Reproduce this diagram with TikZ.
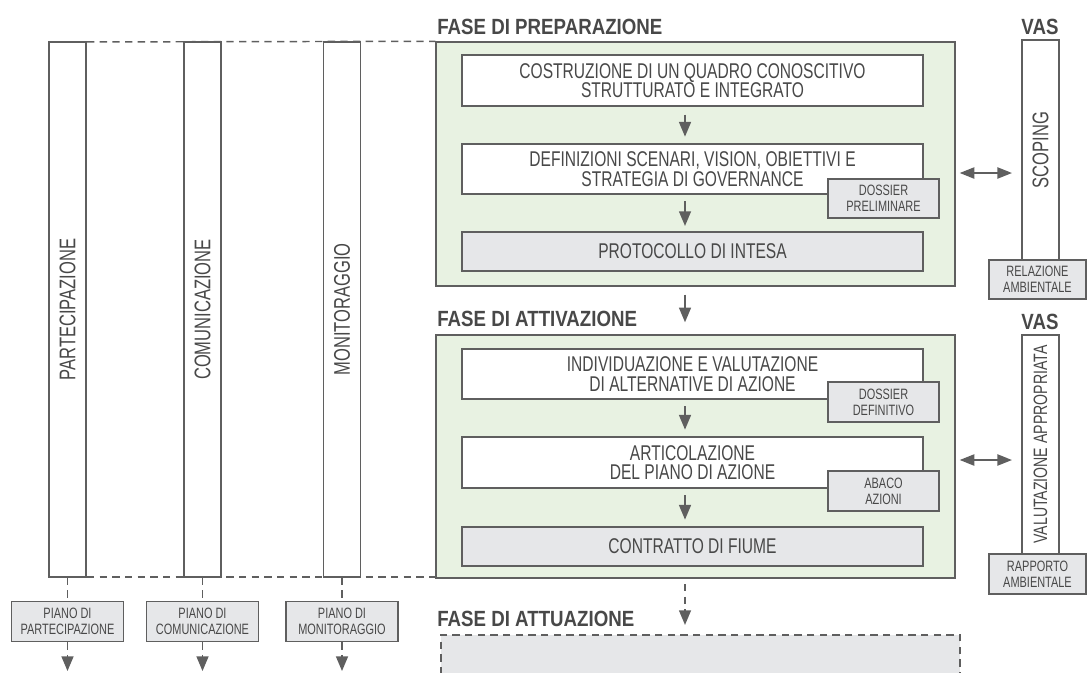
\documentclass[tikz,border=0pt]{standalone}
\usepackage{fontspec}
\setmainfont{Liberation Sans}[FakeStretch=0.73]
\newfontfamily\titlefont{Liberation Sans}[FakeStretch=0.85]
\usepackage{graphicx}
\usepackage{xcolor}
\usetikzlibrary{arrows.meta, positioning, calc}
\newlength{\Unit}
\setlength\Unit{0.75pt}
\definecolor{linegray}{RGB}{95,95,95}
\definecolor{textgray}{RGB}{72,72,72}
\definecolor{phasegreen}{RGB}{232,242,226}
\definecolor{boxgray}{RGB}{230,231,233}
\newcommand{\stepfont}{\fontsize{16}{14.5}\selectfont}
\newcommand{\docfont}{\fontsize{11.25}{12}\selectfont}
\newcommand{\colfont}{\fontsize{17}{17}\selectfont}
\newcommand{\phasefont}{\titlefont\bfseries\fontsize{16.5}{16.5}\selectfont}

\begin{document}
\begin{tikzpicture}[
    x = 0.75pt, y = -0.75pt,
    phase/.style = {
      rectangle, draw = linegray, fill = phasegreen, line width = 1.1pt,
      inner sep = 0pt, minimum width = 519*\Unit
    },
    stepbox/.style = {
      rectangle, draw = linegray, fill = white, line width = 1.1pt,
      inner sep = 0pt, align = center, text = textgray, font = \stepfont,
      minimum width = 461*\Unit
    },
    outcome/.style = {
      stepbox, fill = boxgray, minimum height = 39*\Unit
    },
    doc/.style = {
      rectangle, draw = linegray, fill = boxgray, line width = 1.1pt,
      inner sep = 0pt, align = center, text = textgray, font = \docfont,
      minimum width = 111*\Unit, minimum height = 40*\Unit
    },
    column/.style = {
      rectangle, draw = linegray, fill = white, line width = 1.1pt,
      inner sep = 0pt, text = textgray, font = \colfont,
      minimum width = 37*\Unit
    },
    phasetitle/.style = {
      inner sep = 0pt, text = textgray, font = \phasefont
    },
    flow/.style = {
      draw = linegray, line width = 1.1pt,
      arrows = -{Triangle[length = 11pt, width = 9pt]}
    },
    link/.style = {
      draw = linegray, line width = 1.1pt,
      arrows = {Triangle[length = 11pt, width = 8.5pt]}-{Triangle[length = 11pt, width = 8.5pt]}
    },
    dashedline/.style = {
      draw = linegray, line width = 1.1pt, dash pattern = on 5.5pt off 4pt
    },
    ]

    \clip (0,0) rectangle (1087,672);

    % phase frames
    \node  [phase, minimum height = 244*\Unit]  (prep)  at (695.5,164)  {};
    \node  [phase, minimum height = 243*\Unit]  (act)  at (695.5,456.5)  {};
    \node  [phase, fill = boxgray, dashedline, minimum height = 70*\Unit]  (att)  at (700.5,670)  {};

    % phase titles
    \node  [phasetitle, anchor = west]  (prepT)  at (437,27)  {FASE DI PREPARAZIONE};
    \node  [phasetitle, anchor = west]  (actT)  at (437,319)  {FASE DI ATTIVAZIONE};
    \node  [phasetitle, anchor = west]  (attT)  at (437,619)  {FASE DI ATTUAZIONE};

    % steps of the preparation
    \node  [stepbox, minimum height = 51*\Unit]  (cost)  at (692.5,80.5)
      {COSTRUZIONE DI UN QUADRO CONOSCITIVO\\STRUTTURATO E INTEGRATO};
    \node  [stepbox, minimum height = 50*\Unit]  (defi)  at (692.5,169)
      {DEFINIZIONI SCENARI, VISION, OBIETTIVI E\\STRATEGIA DI GOVERNANCE};
    \node  [outcome]  (prot)  at (692.5,251.5)  {PROTOCOLLO DI INTESA};
    \node  [doc, minimum height = 39*\Unit]  (dosPre)  at (883.5,198.5)  {DOSSIER\\PRELIMINARE};

    % steps of the activation
    \node  [stepbox, minimum height = 50*\Unit]  (indi)  at (692.5,374)
      {INDIVIDUAZIONE E VALUTAZIONE\\DI ALTERNATIVE DI AZIONE};
    \node  [stepbox, minimum height = 51*\Unit]  (arti)  at (692.5,462.5)
      {ARTICOLAZIONE\\DEL PIANO DI AZIONE};
    \node  [outcome]  (contr)  at (692.5,546.5)  {CONTRATTO DI FIUME};
    \node  [doc]  (dosDef)  at (883.5,402)  {DOSSIER\\DEFINITIVO};
    \node  [doc]  (abaco)  at (883.5,491)  {ABACO\\AZIONI};

    % VAS
    \node  [phasetitle]  (vasA)  at (1040,27)  {VAS};
    \node  [column, minimum height = 220*\Unit]  (scop)  at (1040.5,150)  {\rotatebox{90}{SCOPING}};
    \node  [doc, minimum width = 97*\Unit, minimum height = 39*\Unit]  (rel)  at (1037.5,279.5)  {RELAZIONE\\AMBIENTALE};
    \node  [phasetitle]  (vasB)  at (1040,322)  {VAS};
    \node  [column, minimum height = 219*\Unit, font = \fontsize{14.5}{14.5}\selectfont]  (valu)  at (1040.5,444.5)
      {\rotatebox{90}{VALUTAZIONE APPROPRIATA}};
    \node  [doc, minimum width = 97*\Unit]  (rapp)  at (1037.5,574)  {RAPPORTO\\AMBIENTALE};

    % dashed frame lines
    \coordinate  (topL)  at (49,42);
    \coordinate  (botL)  at (49,577);
    \draw  [dashedline]  (topL)  --  (prep.north west);
    \draw  [dashedline]  (botL)  --  (botL -| act.west);

    % left columns and plans
    \foreach \n/\x/\lab in {part/67.5/PARTECIPAZIONE, com/202.5/COMUNICAZIONE, mon/342/MONITORAGGIO}
    {
      \node  [column, minimum height = 535*\Unit]  (col\n)  at (\x,309.5)  {\rotatebox{90}{\lab}};
      \node  [doc, minimum width = 112*\Unit]  (piano\n)  at (\x,621.5)  {PIANO DI\\\lab};
      \coordinate  (end\n)  at (\x,671);
      \draw  [dashedline]  (col\n.south)  --  (piano\n.north);
      \draw  [dashedline, flow]  (piano\n.south)  --  (end\n);
    }

    % draw paths
    \coordinate  (axis)  at (685,0);
    \draw  [flow, shorten <= 6pt, shorten >= 5pt]  (cost.south -| axis)  --  (defi.north -| axis);
    \draw  [flow, shorten <= 5pt, shorten >= 4pt]  (defi.south -| axis)  --  (prot.north -| axis);
    \draw  [flow, shorten <= 6pt, shorten >= 9pt]  (prep.south -| axis)  --  (act.north -| axis);
    \draw  [flow, shorten <= 5pt, shorten >= 5pt]  (indi.south -| axis)  --  (arti.north -| axis);
    \draw  [flow, shorten <= 5pt, shorten >= 5pt]  (arti.south -| axis)  --  (contr.north -| axis);
    \draw  [dashedline, flow, shorten <= 4pt, shorten >= 7pt]  (act.south -| axis)  --  (att.north -| axis);

    % links to VAS
    \coordinate  (linkA)  at (0,173);
    \coordinate  (linkB)  at (0,460);
    \draw  [link, shorten <= 3pt, shorten >= 7pt]  (prep.east |- linkA)  --  (scop.west |- linkA);
    \draw  [link, shorten <= 3pt, shorten >= 7pt]  (act.east |- linkB)  --  (valu.west |- linkB);

\end{tikzpicture}
\end{document}
